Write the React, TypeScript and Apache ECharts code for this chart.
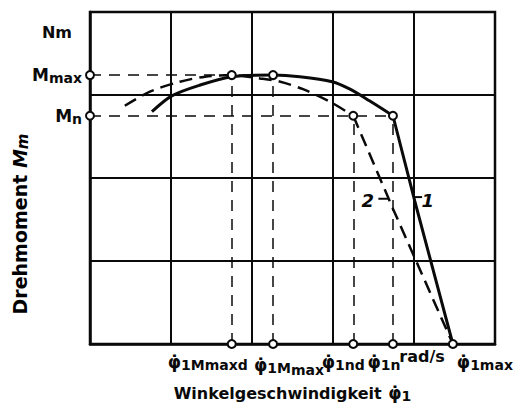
import React, { useEffect, useRef } from "react";
import * as echarts from "echarts";

// Characteristic torque curves of an induction motor (normalised units)
const FONT = "DejaVu Sans";
const INK = "#0a0a0a";

const M_MAX = 3.24;
const M_N = 2.75;
const PHI_MMAX_D = 1.75;
const PHI_MMAX = 2.26;
const PHI_ND = 3.25;
const PHI_N = 3.74;
const PHI_MAX = 4.48;

// curve 1 (solid): upper part up to the rated point, then the steep drop
const curve1Upper: [number, number][] = [
  [0.765, 2.8],
  [1.01, 2.99],
  [1.36, 3.12],
  [1.75, 3.22],
  [PHI_MMAX, M_MAX],
  [2.59, 3.22],
  [2.99, 3.16],
  [3.21, 3.07],
  [3.45, 2.93],
  [PHI_N, M_N],
];
const curve1Drop: [number, number][] = [
  [PHI_N, M_N],
  [4.01, 1.72],
  [PHI_MAX, 0],
];

// curve 2 (dashed)
const curve2Upper: [number, number][] = [
  [0.43, 2.87],
  [0.74, 3.04],
  [1.11, 3.16],
  [1.42, 3.22],
  [PHI_MMAX_D, M_MAX],
  [2.1, 3.2],
  [2.35, 3.16],
  [2.63, 3.07],
  [2.96, 2.92],
  [PHI_ND, M_N],
];
const curve2Drop: [number, number][] = [
  [PHI_ND, M_N],
  [3.74, 1.63],
  [PHI_MAX, 0],
];

// characteristic points on the curves
const curvePoints: [number, number][] = [
  [PHI_MMAX_D, M_MAX],
  [PHI_MMAX, M_MAX],
  [PHI_ND, M_N],
  [PHI_N, M_N],
];

// torque labels on the vertical axis
const yMarks = [
  { value: M_MAX, text: "{b|M}{s|max}" },
  { value: M_N, text: "{b|M}{s|n}" },
];

// speed labels on the horizontal axis, with horizontal label offset
const xMarks = [
  { value: PHI_MMAX_D, text: "{b|φ̇}{s|1Mmaxd}", dx: -24 },
  { value: PHI_MMAX, text: "{b|φ̇}{s|1M}{ss|max}", dx: 16 },
  { value: PHI_ND, text: "{b|φ̇}{s|1nd}", dx: -10 },
  { value: PHI_N, text: "{b|φ̇}{s|1n}", dx: -9 },
  { value: PHI_MAX, text: "{b|φ̇}{s|1max}", dx: 32 },
];

const UNIT_Y = { value: 3.75, text: "Nm" };
const UNIT_X = { value: 4.1, text: "rad/s" };

// curve numbers with their leader lines
const curveTags = [
  { pos: [3.43, 1.73], text: "2", leader: [[3.56, 1.75], [3.69, 1.75]] },
  { pos: [4.17, 1.73], text: "1", leader: [[4.0, 1.77], [4.1, 1.77]] },
];

const rich = {
  b: { fontFamily: FONT, fontSize: 17, fontWeight: "bold", color: INK },
  s: { fontFamily: FONT, fontSize: 14, fontWeight: "bold", color: INK, padding: [6, 0, 0, 0] },
  ss: { fontFamily: FONT, fontSize: 14, fontWeight: "bold", color: INK, padding: [11, 0, 0, 0] },
};

const App: React.FC = () => {
  const ref = useRef<HTMLDivElement>(null);

  useEffect(() => {
    if (!ref.current) return;
    const chart = echarts.init(ref.current, null, { renderer: "svg" });

    const hollow = {
      symbol: "circle",
      symbolSize: 8,
      itemStyle: { color: "#fff", borderColor: INK, borderWidth: 2, opacity: 1 },
    };

    const guide = (a: [number, number], b: [number, number]) => [
      { coord: a },
      { coord: b },
    ];

    chart.setOption({
      animation: false,
      backgroundColor: "#fff",
      grid: {
        left: 90,
        right: 21,
        top: 12,
        bottom: 59,
        show: true,
        borderColor: INK,
        borderWidth: 2.5,
        backgroundColor: "transparent",
      },
      xAxis: {
        type: "value",
        min: 0,
        max: 5,
        interval: 1,
        axisLine: { show: true, lineStyle: { color: INK, width: 2.5 } },
        axisTick: { show: false },
        axisLabel: { show: false },
        splitLine: { show: true, lineStyle: { color: INK, width: 2 } },
        name: "{t|Winkelgeschwindigkeit}  {b|φ̇}{s|1}",
        nameLocation: "middle",
        nameGap: 39,
        nameTextStyle: {
          rich: {
            ...rich,
            t: { fontFamily: FONT, fontSize: 16, fontWeight: "bold", color: INK },
          },
        },
      },
      yAxis: {
        type: "value",
        min: 0,
        max: 4,
        interval: 1,
        axisLine: { show: true, lineStyle: { color: INK, width: 2.5 } },
        axisTick: { show: false },
        axisLabel: { show: false },
        splitLine: { show: true, lineStyle: { color: INK, width: 2 } },
      },
      graphic: [
        {
          type: "text",
          x: 20,
          y: 224,
          rotation: Math.PI / 2,
          style: {
            text: "{t|Drehmoment}  {b|M}{s|m}",
            align: "center",
            verticalAlign: "middle",
            rich: {
              ...rich,
              t: { fontFamily: FONT, fontSize: 19, fontWeight: "bold", color: INK },
              b: { fontFamily: FONT, fontSize: 19, fontWeight: "bold", fontStyle: "italic", color: INK },
              s: { fontFamily: FONT, fontSize: 15, fontWeight: "bold", fontStyle: "italic", color: INK, padding: [5, 0, 0, 0] },
            },
          },
        },
      ],
      series: [
        {
          // dashed guide lines to the axes
          type: "line",
          data: [],
          markLine: {
            silent: true,
            symbol: "none",
            label: { show: false },
            lineStyle: { color: INK, width: 1.5, type: [11, 8] },
            data: [
              guide([0, M_MAX], [PHI_MMAX, M_MAX]),
              guide([0, M_N], [PHI_N, M_N]),
              guide([PHI_MMAX_D, 0], [PHI_MMAX_D, M_MAX]),
              guide([PHI_MMAX, 0], [PHI_MMAX, M_MAX]),
              guide([PHI_ND, 0], [PHI_ND, M_N]),
              guide([PHI_N, 0], [PHI_N, M_N]),
            ],
          },
        },
        {
          type: "line",
          data: curve2Upper,
          smooth: 0.3,
          showSymbol: false,
          lineStyle: { color: INK, width: 2.5, type: [13, 7] },
        },
        {
          type: "line",
          data: curve2Drop,
          smooth: false,
          showSymbol: false,
          lineStyle: { color: INK, width: 2.5, type: [13, 7] },
        },
        {
          type: "line",
          data: curve1Upper,
          smooth: 0.3,
          showSymbol: false,
          lineStyle: { color: INK, width: 3 },
        },
        {
          type: "line",
          data: curve1Drop,
          smooth: false,
          showSymbol: false,
          lineStyle: { color: INK, width: 3 },
        },
        ...curveTags.map((t) => ({
          type: "line",
          data: t.leader,
          showSymbol: false,
          lineStyle: { color: INK, width: 2 },
        })),
        {
          type: "scatter",
          data: curveTags.map((t) => ({ value: t.pos, name: t.text })),
          symbolSize: 0,
          itemStyle: { opacity: 1 },
          label: {
            show: true,
            position: "inside",
            formatter: (p: any) => p.name,
            fontFamily: FONT,
            fontSize: 18,
            fontWeight: "bold",
            fontStyle: "italic",
            color: INK,
          },
        },
        {
          type: "scatter",
          ...hollow,
          data: curvePoints,
          z: 5,
        },
        {
          type: "scatter",
          ...hollow,
          data: yMarks.map((m) => ({ value: [0, m.value], name: m.text })),
          z: 5,
          label: {
            show: true,
            position: "left",
            distance: 3,
            formatter: (p: any) => p.name,
            rich,
          },
        },
        {
          type: "scatter",
          ...hollow,
          data: xMarks.map((m) => ({
            value: [m.value, 0],
            name: m.text,
            label: { offset: [m.dx, 0] },
          })),
          z: 5,
          label: {
            show: true,
            position: "bottom",
            distance: 3,
            formatter: (p: any) => p.name,
            rich,
          },
        },
        {
          type: "scatter",
          symbolSize: 0,
          itemStyle: { opacity: 1 },
          data: [
            { value: [0, UNIT_Y.value], name: UNIT_Y.text, label: { position: "left", distance: 18 } },
            { value: [UNIT_X.value, 0], name: UNIT_X.text, label: { position: "bottom", distance: 4 } },
          ],
          label: {
            show: true,
            formatter: (p: any) => p.name,
            fontFamily: FONT,
            fontSize: 16,
            fontWeight: "bold",
            color: INK,
          },
        },
      ],
    });

    return () => chart.dispose();
  }, []);

  return (
    <div
      ref={ref}
      style={{ position: "fixed", left: 0, top: 0, width: 516, height: 408 }}
    />
  );
};

export default App;
